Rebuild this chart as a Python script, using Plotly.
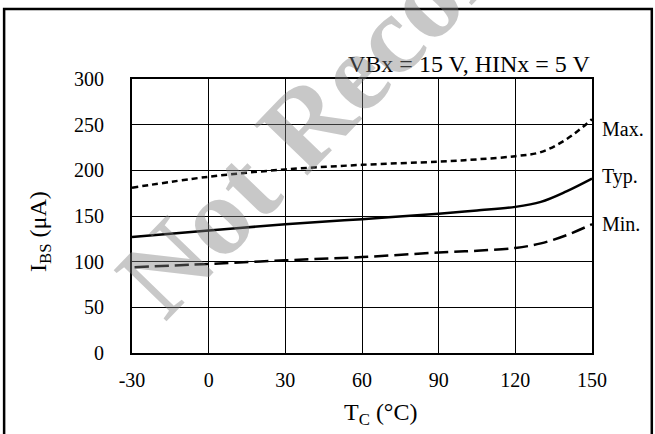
import plotly.graph_objects as go

# case temperature (°C) and bootstrap supply current I_BS (µA)
temps = [-30, 0, 30, 60, 90, 105, 120, 130, 140, 150]
ibs_max = [181, 193, 201, 206, 209.5, 212, 215.5, 220, 234, 256]
ibs_typ = [127, 134, 141, 146.5, 152.5, 156, 160, 165.5, 177, 191]
temps_min = [-29, 0, 30, 60, 90, 105, 120, 130, 140, 150]
ibs_min = [94, 97.5, 101.5, 105, 110, 112, 115, 120, 129, 141]

x_ticks = [-30, 0, 30, 60, 90, 120, 150]
x_tick_labels = ["-30", "0", "30", "60", "90", "120", "150"]
y_ticks = [0, 50, 100, 150, 200, 250, 300]

curve_labels = ["Max.", "Typ.", "Min."]
label_y = [245, 193, 141]

FONT = "Liberation Serif"

fig = go.Figure()
fig.add_trace(go.Scatter(x=temps, y=ibs_max, mode="lines", name="Max.",
                         line=dict(color="black", width=2.5, dash="6px,4px", shape="spline")))
fig.add_trace(go.Scatter(x=temps, y=ibs_typ, mode="lines", name="Typ.",
                         line=dict(color="black", width=2.5, shape="spline")))
fig.add_trace(go.Scatter(x=temps_min, y=ibs_min, mode="lines", name="Min.",
                         line=dict(color="black", width=2.5, dash="14px,6px", shape="spline")))

annotations = []
for text, yv in zip(curve_labels, label_y):
    annotations.append(dict(x=1.017, xref="paper", y=yv, yref="y", text=text,
                            showarrow=False, xanchor="left", yanchor="middle",
                            font=dict(family=FONT, size=20, color="black")))

annotations += [
    dict(x=1.0, xref="paper", y=1.0, yref="paper", text="VBx = 15 V, HINx = 5 V",
         showarrow=False, xanchor="right", yanchor="bottom",
         font=dict(family=FONT, size=24, color="black")),
    dict(x=0.541, xref="paper", y=-0.2226, yref="paper", text="T<sub>C</sub> (°C)",
         showarrow=False, xanchor="center", yanchor="middle",
         font=dict(family=FONT, size=24, color="black")),
    dict(x=-0.2, xref="paper", y=0.4416, yref="paper", text="I<sub>BS</sub> (μA)",
         showarrow=False, xanchor="center", yanchor="middle", textangle=-90,
         font=dict(family=FONT, size=24, color="black")),
    # watermark
    dict(x=0.70, xref="paper", y=1.40, yref="paper", text="<b>Not Recommended</b>",
         showarrow=False, xanchor="center", yanchor="middle", textangle=-46,
         font=dict(family=FONT, size=112, color="rgba(128,128,128,0.43)")),
]

fig.update_layout(
    width=655,
    height=434,
    margin=dict(l=132, r=63, t=79, b=81),
    paper_bgcolor="white",
    plot_bgcolor="white",
    showlegend=False,
    annotations=annotations,
    shapes=[dict(type="rect", xref="paper", yref="paper",
                 x0=-0.278, x1=1.130, y0=-0.35, y1=1.2555,
                 line=dict(color="black", width=2.5))],
)
fig.update_xaxes(
    range=[-30, 150], tickvals=x_ticks, ticktext=x_tick_labels,
    showgrid=True, gridcolor="black", gridwidth=1,
    zeroline=False, showline=True, linecolor="black", linewidth=2, mirror=True,
    ticks="", ticklabelstandoff=8, tickfont=dict(family=FONT, size=20, color="black"),
)
fig.update_yaxes(
    range=[0, 300], tickvals=y_ticks, showgrid=True, gridcolor="black", gridwidth=1,
    zeroline=False, showline=True, linecolor="black", linewidth=2, mirror=True,
    ticks="", ticklabelstandoff=22, tickfont=dict(family=FONT, size=20, color="black"),
)

fig.write_html("out.html", config={"displayModeBar": False},
               post_script="document.body.style.margin='0';")
